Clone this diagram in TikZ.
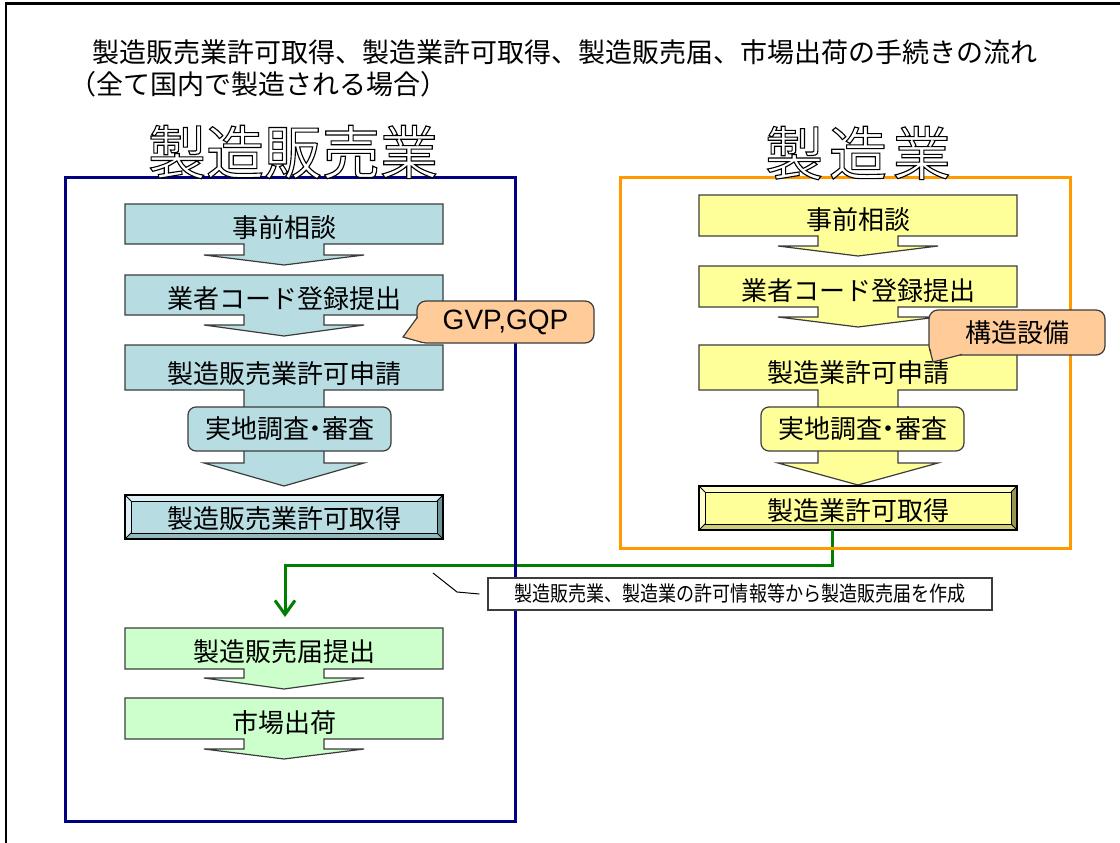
\documentclass[tikz,border=0pt]{standalone}
\usepackage{fontspec}
\setmainfont{Noto Sans CJK JP}
\newfontfamily\arialfont{Liberation Sans}
\newfontfamily\narrowfont[FakeStretch=0.86]{Noto Sans CJK JP}
\newfontfamily\propfont[RawFeature=+palt]{Noto Sans CJK JP}
\usetikzlibrary{arrows.meta}
\definecolor{boxblue}{RGB}{183,221,227}
\definecolor{bluelight}{RGB}{220,239,242}
\definecolor{bluedark}{RGB}{110,148,154}
\definecolor{bluemid}{RGB}{148,186,192}
\definecolor{boxyellow}{RGB}{255,255,153}
\definecolor{yellowlight}{RGB}{255,255,205}
\definecolor{yellowdark}{RGB}{150,150,78}
\definecolor{yellowmid}{RGB}{205,205,118}
\definecolor{boxgreen}{RGB}{204,255,204}
\definecolor{peach}{RGB}{255,204,153}
\definecolor{framenavy}{RGB}{0,0,128}
\definecolor{frameorange}{RGB}{255,153,0}
\definecolor{linkgreen}{RGB}{0,128,0}
\definecolor{edgegray}{RGB}{60,60,60}
\newcommand{\downbox}[7]{%
  \pgfmathsetmacro{\cx}{(#2+#3)/2}%
  \filldraw[fill=#1,draw=edgegray,line width=1.2] (#2,#4) -- (#3,#4) -- (#3,#5) -- (\cx+40,#5) -- (\cx+40,#6) -- (\cx+80,#6) -- (\cx,#7) -- (\cx-80,#6) -- (\cx-40,#6) -- (\cx-40,#5) -- (#2,#5) -- cycle;}
\newcommand{\bevelbox}[8]{%
  \fill[#5] (#1,#3) rectangle (#2,#4);
  \fill[#6] (#1,#3) -- (#2,#3) -- (#2-6,#3+6) -- (#1+6,#3+6) -- cycle;
  \fill[#6] (#1,#3) -- (#1+6,#3+6) -- (#1+6,#4-6) -- (#1,#4) -- cycle;
  \fill[#7] (#2,#3) -- (#2,#4) -- (#2-6,#4-6) -- (#2-6,#3+6) -- cycle;
  \fill[#8] (#1,#4) -- (#2,#4) -- (#2-6,#4-6) -- (#1+6,#4-6) -- cycle;
  \draw[line width=1.2] (#1,#3) rectangle (#2,#4);
  \draw[line width=0.8] (#1+6,#3+6) rectangle (#2-6,#4-6);
  \draw[line width=0.8] (#1,#3) -- (#1+6,#3+6) (#2,#3) -- (#2-6,#3+6) (#1,#4) -- (#1+6,#4-6) (#2,#4) -- (#2-6,#4-6);}
\newcommand{\hollow}[1]{\special{pdf:literal direct 1.1 w 0 G 2 Tr}#1\special{pdf:literal direct 0 Tr}}
\begin{document}
\begin{tikzpicture}[x=1pt,y=-1pt,
    boxtext/.style={font=\fontsize{26}{26}\selectfont,inner sep=0},
    survey/.style={draw=edgegray,line width=1.2,rounded corners=8,minimum width=203,minimum height=44,inner sep=0,font=\propfont\fontsize{26}{26}\selectfont},
    bigtitle/.style={font=\fontsize{58}{58}\selectfont,inner sep=0,text=white},
    callout/.style={fill=peach,draw=edgegray,line width=1.2,rounded corners=9,inner sep=0},
    frame/.style={line width=3},
    link/.style={draw=linkgreen,line width=3,-{Straight Barb[length=14pt,width=20pt]}}]
    \useasboundingbox (0,0) rectangle (1120,843);
    \fill[white] (0,0) rectangle (1120,843);
    \draw[line width=2.5] (6,860) -- (6,3.5) -- (1130,3.5);
    \node[anchor=west,font=\fontsize{27}{27}\selectfont,inner sep=0] (title1) at (92,52) {製造販売業許可取得、製造業許可取得、製造販売届、市場出荷の手続きの流れ};
    \node[anchor=west,font=\fontsize{27}{27}\selectfont,inner sep=0] (title2) at (69,84) {（全て国内で製造される場合）};

    \downbox{boxblue}{125}{443}{204}{244}{255}{265}
    \downbox{boxblue}{125}{443}{275}{315}{325}{336}
    \downbox{boxblue}{125}{443}{345}{390}{463}{486}
    \bevelbox{125}{443}{495}{539}{boxblue}{bluelight}{bluedark}{bluemid}
    \downbox{boxgreen}{125}{443}{628}{669}{678}{689}
    \downbox{boxgreen}{125}{443}{698}{739}{749}{759}
    \node[boxtext] (msConsult) at (284,228) {事前相談};
    \node[boxtext] (msCode) at (284,299) {業者コード登録提出};
    \node[boxtext] (msApply) at (284,374) {製造販売業許可申請};
    \node[survey,fill=boxblue] (msSurvey) at (289.5,429) {実地調査・審査};
    \node[boxtext] (msGot) at (284,519) {製造販売業許可取得};
    \node[boxtext] (msNotify) at (284,652) {製造販売届提出};
    \node[boxtext] (msShip) at (284,723) {市場出荷};

    \downbox{boxyellow}{699}{1017}{195}{236}{246}{256}
    \downbox{boxyellow}{699}{1017}{266}{307}{317}{327}
    \downbox{boxyellow}{699}{1017}{345}{390}{463}{485}
    \bevelbox{699}{1017}{486}{530}{boxyellow}{yellowlight}{yellowdark}{yellowmid}
    \node[boxtext] (mfConsult) at (858,220) {事前相談};
    \node[boxtext] (mfCode) at (858,291) {業者コード登録提出};
    \node[boxtext] (mfApply) at (858,373) {製造業許可申請};
    \node[survey,fill=boxyellow] (mfSurvey) at (862.5,429) {実地調査・審査};
    \node[boxtext] (mfGot) at (858,511) {製造業許可取得};

    \coordinate (mfOut) at (832,530);
    \coordinate (msIn) at (285,617);
    \draw[link] (mfOut) -- ++(0,35) -| (msIn);

    \draw[frame,draw=framenavy] (65,177) rectangle (515,821);
    \draw[frame,draw=frameorange] (620,177) rectangle (1070,548);

    \node[draw=edgegray,fill=white,line width=1.2,minimum width=504,minimum height=32,inner sep=0,font=\narrowfont\fontsize{21}{21}\selectfont] (note) at (740,594) {製造販売業、製造業の許可情報等から製造販売届を作成};
    \coordinate (noteTail) at (433,573);
    \draw[line width=1] (noteTail) -- (457,592) -- ([xshift=-8pt]note.west);

    \node[callout,minimum width=177,minimum height=42] (gvp) at (505.5,322) {\arialfont\fontsize{28}{28}\selectfont GVP,GQP};
    \fill[peach] (419,316) -- (403,337) -- (423,342) -- (427,316) -- cycle;
    \draw[edgegray,line width=1.2] (417.6,317) -- (403,337) -- (422,342.4);
    \node[callout,minimum width=176,minimum height=45] (facility) at (1017,332.5) {\fontsize{26}{26}\selectfont 構造設備};
    \fill[peach] (931,350) -- (933,362) -- (962,354.4) -- (962,348) -- cycle;
    \draw[edgegray,line width=1.2] (929.6,349) -- (933,362) -- (962,354.4);

    \node[bigtitle] (msTitle) at (293,152) {\hollow{製造販売業}};
    \node[bigtitle] (mfTitle) at (858,153) {\addfontfeature{LetterSpace=10}\hollow{製造業}};
\end{tikzpicture}
\end{document}
